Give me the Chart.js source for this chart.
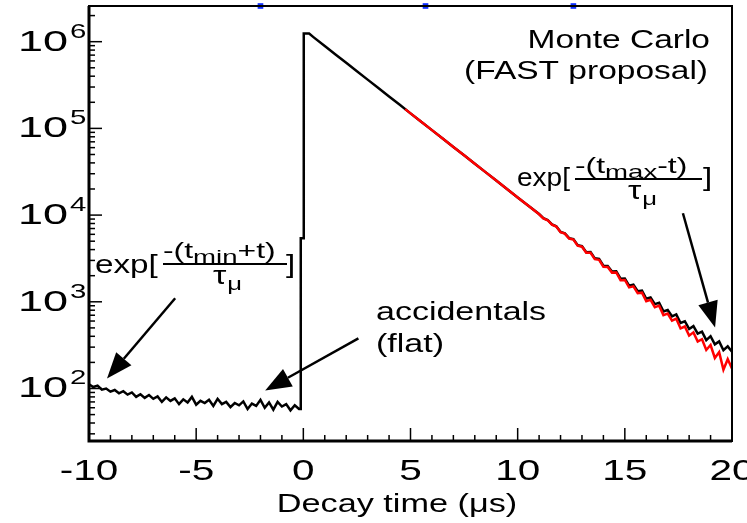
<!DOCTYPE html>
<html>
<head>
<meta charset="utf-8">
<script src="https://cdn.jsdelivr.net/npm/chart.js@4.4.1/dist/chart.umd.min.js"></script>
<style>
  html, body { margin: 0; padding: 0; background: #fff; overflow: hidden; }
  canvas { display: block; }
</style>
</head>
<body>
<canvas id="chart" width="747" height="523"></canvas>
<script>
// accidentals before the stop, 0.2 us bins starting at -10 us
const bgStart = -10
const bgBin = 0.2
const bgCounts = [112, 104, 108, 97, 100, 92, 96, 88, 93, 85,
                  90, 80, 86, 78, 84, 76, 81, 70, 79, 72,
                  77, 66, 75, 69, 80, 65, 72, 68, 74, 63,
                  76, 66, 70, 61, 68, 64, 71, 58, 67, 63,
                  74, 60, 69, 57, 70, 62, 66, 56, 64, 58]

// rising edge at t = 0
const edgeTime = [-0.12, -0.12, 0.02, 0.02, 0.27]
const edgeCounts = [58, 5400, 5400, 1240000, 1240000]

// smooth part of the decay
const decayTime = [0.5, 1, 1.5, 2, 2.5, 3, 3.5, 4, 4.5, 5, 5.5, 6, 6.5, 7, 7.5, 8, 8.5, 9, 9.5, 10, 10.5]
const decayCounts = [1114000, 891000, 713000, 570000, 456000, 365000, 292000, 233000, 187000, 149000,
                     119000, 95500, 76400, 61100, 48900, 39100, 31300, 25000, 20000, 16000, 12800]

// noisy tail, 0.2 us bins from 11 us
const tailStart = 11
const tailBin = 0.2
const tailCounts = [10290, 9230, 8780, 7815, 7440, 6410, 6165, 5420, 5280, 4505,
                    4380, 3735, 3740, 3170, 3115, 2605, 2590, 2235, 2245, 1845,
                    1855, 1535, 1575, 1325, 1345, 1085, 1125, 940, 975, 775,
                    805, 680, 715, 570, 597, 486, 524, 429, 452, 361,
                    401, 323, 349, 276, 306, 265]

// red: background subtracted
const fitTime = [4.75, 5, 5.5, 6, 6.5, 7, 7.5, 8, 8.5, 9, 9.5, 10, 10.5]
const fitCounts = [166900, 149000, 119000, 95500, 76400, 61100, 48900, 39100, 31300, 25000, 20000, 16000, 12800]
const fitTail = [10230, 9170, 8720, 7755, 7380, 6350, 6105, 5360, 5220, 4445,
                 4320, 3670, 3675, 3105, 3050, 2540, 2525, 2170, 2180, 1778,
                 1787, 1467, 1506, 1256, 1275, 1014, 1054, 868, 902, 702,
                 731, 605, 639, 493, 519, 407, 444, 348, 370, 278,
                 317, 225, 263, 165, 218, 170]

// blue markers on the top frame
const blueMarks = [-2.0, 5.7, 12.6]

const xTicks = [-10, -5, 0, 5, 10, 15, 20]
const yDecades = [2, 3, 4, 5, 6]
const yMin = 24.8
const yMax = 2.58e6

const black = []
bgCounts.forEach((v, i) => black.push({ x: bgStart + i * bgBin, y: v }))
edgeTime.forEach((t, i) => black.push({ x: t, y: edgeCounts[i] }))
decayTime.forEach((t, i) => black.push({ x: t, y: decayCounts[i] }))
tailCounts.forEach((v, i) => black.push({ x: tailStart + i * tailBin, y: v }))

const red = []
fitTime.forEach((t, i) => red.push({ x: t, y: fitCounts[i] }))
fitTail.forEach((v, i) => red.push({ x: tailStart + i * tailBin, y: v }))

const FONT = '"Liberation Sans", Arial, Helvetica, sans-serif'

// draws text stretched horizontally like the scanned figure
function txt(c, s, x, y, size, align, sx) {
    c.save()
    c.font = size + 'px ' + FONT
    c.textBaseline = 'alphabetic'
    c.textAlign = 'left'
    const w = c.measureText(s).width * sx
    let left = x
    if (align === 'center') left = x - w / 2
    if (align === 'right') left = x - w
    c.translate(left, y)
    c.scale(sx, 1)
    c.fillText(s, 0, 0)
    c.restore()
    return left + w
}

function arrow(c, x0, y0, x1, y1) {
    const a = Math.atan2(y1 - y0, x1 - x0)
    const len = 26, half = 10
    const bx = x1 - len * Math.cos(a), by = y1 - len * Math.sin(a)
    c.beginPath()
    c.moveTo(x0, y0)
    c.lineTo(bx, by)
    c.lineWidth = 2.5
    c.stroke()
    c.beginPath()
    c.moveTo(x1, y1)
    c.lineTo(bx + half * Math.sin(a), by - half * Math.cos(a))
    c.lineTo(bx - half * Math.sin(a), by + half * Math.cos(a))
    c.closePath()
    c.fill()
}

const decor = {
    id: 'decor',
    afterDatasetsDraw(chart) {
        const c = chart.ctx
        const xs = chart.scales.x
        const ys = chart.scales.y
        const L = xs.getPixelForValue(-10), R = xs.getPixelForValue(20)
        const T = ys.getPixelForValue(yMax), B = ys.getPixelForValue(yMin)
        c.save()
        c.strokeStyle = '#000'
        c.fillStyle = '#000'

        // frame
        c.lineWidth = 2
        c.strokeRect(L, T, R - L, B - T)
        c.lineWidth = 3
        c.beginPath()
        c.moveTo(L, T)
        c.lineTo(L, B)
        c.lineTo(R, B)
        c.stroke()

        // y ticks (log)
        c.lineWidth = 1.5
        for (let n = 1; n <= 6; n++) {
            for (let k = 1; k <= 9; k++) {
                const v = k * Math.pow(10, n)
                if (v < yMin || v > yMax) continue
                const py = ys.getPixelForValue(v)
                c.beginPath()
                c.moveTo(L, py)
                c.lineTo(L + (k === 1 ? 13 : 6), py)
                c.stroke()
            }
        }
        // x ticks
        for (let t = -10; t <= 20; t++) {
            const px = xs.getPixelForValue(t)
            c.beginPath()
            c.moveTo(px, B)
            c.lineTo(px, B - (t % 5 === 0 ? 13 : 6))
            c.stroke()
        }

        // tick labels
        yDecades.forEach(n => {
            const py = ys.getPixelForValue(Math.pow(10, n))
            txt(c, '10', 68, py + 9, 30, 'right', 1.5)
            txt(c, String(n), 70, py - 4, 21, 'left', 1.4)
        })
        xTicks.forEach(t => {
            txt(c, String(t), xs.getPixelForValue(t), 480, 30, 'center', 1.35)
        })
        txt(c, 'Decay time (\u03bcs)', 397, 512, 25, 'center', 1.37)

        // labels inside the plot
        txt(c, 'Monte Carlo', 710, 48, 25, 'right', 1.34)
        txt(c, '(FAST proposal)', 708, 79, 25, 'right', 1.34)
        txt(c, 'accidentals', 376, 320, 25, 'left', 1.36)
        txt(c, '(flat)', 376, 352, 25, 'left', 1.36)

        // exp[-(tmin+t)/tau_mu]
        txt(c, 'exp[', 95, 273, 25, 'left', 1.33)
        let x = txt(c, '-(t', 163, 258, 22, 'left', 1.45)
        x = txt(c, 'min', x, 263, 19, 'left', 1.45)
        x = txt(c, '+t)', x, 258, 22, 'left', 1.45)
        c.lineWidth = 2
        c.beginPath(); c.moveTo(163, 264); c.lineTo(287, 264); c.stroke()
        x = txt(c, '\u03c4', 213, 284, 25, 'left', 1.35)
        txt(c, '\u03bc', x + 1, 290, 19, 'left', 1.35)
        txt(c, ']', 286, 273, 25, 'left', 1.33)

        // exp[-(tmax-t)/tau_mu]
        txt(c, 'exp[', 517, 186, 25, 'left', 1.12)
        x = txt(c, '-(t', 575, 173, 22, 'left', 1.45)
        x = txt(c, 'max', x, 178, 19, 'left', 1.45)
        x = txt(c, '-t)', x, 173, 22, 'left', 1.45)
        c.beginPath(); c.moveTo(575, 179); c.lineTo(702, 179); c.stroke()
        x = txt(c, '\u03c4', 628, 199, 25, 'left', 1.35)
        txt(c, '\u03bc', x + 1, 205, 19, 'left', 1.35)
        txt(c, ']', 703, 186, 25, 'left', 1.33)

        // arrows, anchored in data units
        const P = (t, v) => [xs.getPixelForValue(t), ys.getPixelForValue(v)]
        arrow(c, ...P(-5.98, 1100), ...P(-9.16, 130))
        arrow(c, ...P(2.57, 378), ...P(-1.78, 95))
        arrow(c, ...P(17.71, 10500), ...P(19.21, 504))

        c.restore()
    }
}

new Chart(document.getElementById('chart'), {
    type: 'line',
    data: {
        datasets: [
            {
                data: red,
                borderColor: '#ff0000',
                borderWidth: 2.5,
                pointRadius: 0,
                order: 0
            },
            {
                data: black,
                borderColor: '#000000',
                borderWidth: 2.5,
                pointRadius: 0,
                order: 1
            },
            {
                data: blueMarks.map(t => ({ x: t, y: yMax })),
                showLine: false,
                pointStyle: 'rect',
                pointRadius: 4,
                backgroundColor: '#1030ff',
                borderWidth: 0,
                clip: false,
                order: 2
            }
        ]
    },
    options: {
        responsive: false,
        animation: false,
        devicePixelRatio: 1,
        layout: { padding: { left: 89, right: 15, top: 6, bottom: 82 } },
        plugins: {
            legend: { display: false },
            tooltip: { enabled: false }
        },
        scales: {
            x: { type: 'linear', min: -10, max: 20, display: false },
            y: { type: 'logarithmic', min: yMin, max: yMax, display: false }
        }
    },
    plugins: [decor]
})
</script>
</body>
</html>
